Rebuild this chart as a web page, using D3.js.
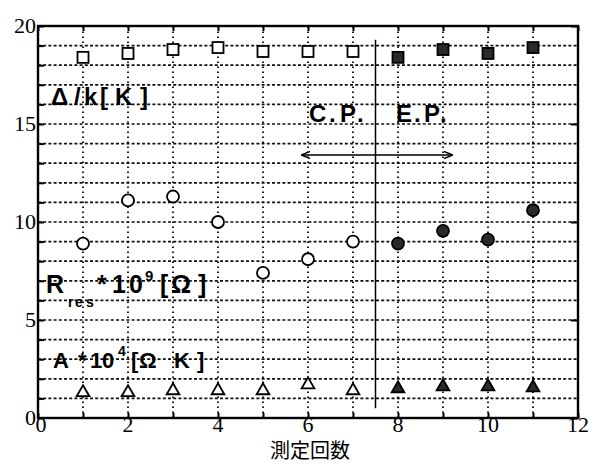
<!DOCTYPE html>
<html>
<head>
<meta charset="utf-8">
<script src="https://cdn.jsdelivr.net/npm/d3@7"></script>
<style>
body { margin: 0; background: #fff; }
</style>
</head>
<body>
<script>
// runs 1..7 = C.P., 8..11 = E.P.
var runs      = [1, 2, 3, 4, 5, 6, 7, 8, 9, 10, 11];
var gap       = [18.4, 18.6, 18.8, 18.9, 18.7, 18.7, 18.7, 18.4, 18.8, 18.6, 18.9];
var rres      = [8.9, 11.1, 11.3, 10.0, 7.4, 8.1, 9.0, 8.9, 9.55, 9.1, 10.6];
var aCoef     = [1.3, 1.3, 1.4, 1.4, 1.4, 1.7, 1.4, 1.5, 1.6, 1.6, 1.55];
var xTicks    = [0, 2, 4, 6, 8, 10, 12];
var yTicks    = [0, 5, 10, 15, 20];
var splitRun  = 7.5;
var arrowSpan = [5.87, 9.2];

var W = 592, H = 464;
var SANS = "'Liberation Sans', Arial, Helvetica, sans-serif";
var SERIF = "'Liberation Serif', 'Times New Roman', 'DejaVu Serif', 'Noto Serif', serif";

var svg = d3.select("body").append("svg")
	.attr("width", W)
	.attr("height", H);

var x = d3.scaleLinear().domain([0, 12]).range([38, 578]);
var y = d3.scaleLinear().domain([0, 20]).range([418, 26]);

/*
/	GRID
*/
var grid = svg.append("g");
grid.selectAll("line.h").data(d3.range(1, 20)).enter().append("line")
	.attr("x1", x(0)).attr("x2", x(12))
	.attr("y1", function(d){ return y(d); })
	.attr("y2", function(d){ return y(d); })
	.attr("stroke", "#111")
	.attr("stroke-width", 1.7)
	.attr("stroke-dasharray", "3,2.2");
grid.selectAll("line.v").data(d3.range(1, 12)).enter().append("line")
	.attr("y1", y(0)).attr("y2", y(20))
	.attr("x1", function(d){ return x(d); })
	.attr("x2", function(d){ return x(d); })
	.attr("stroke", "#111")
	.attr("stroke-width", 1.9)
	.attr("stroke-dasharray", "1.6,3.4");

/*
/	AXES
*/
var axB = svg.append("g").attr("transform", "translate(0," + y(0) + ")")
	.call(d3.axisBottom(x).tickValues(d3.range(0, 13)).tickSize(-5).tickFormat(""));
var axT = svg.append("g").attr("transform", "translate(0," + y(20) + ")")
	.call(d3.axisTop(x).tickValues(d3.range(0, 13)).tickSize(-5).tickFormat(""));
var axL = svg.append("g").attr("transform", "translate(" + x(0) + ",0)")
	.call(d3.axisLeft(y).tickValues(d3.range(0, 21)).tickSize(-6).tickFormat(""));
var axR = svg.append("g").attr("transform", "translate(" + x(12) + ",0)")
	.call(d3.axisRight(y).tickValues(yTicks).tickSize(-7).tickFormat(""));
[axB, axT, axL, axR].forEach(function(a){
	a.selectAll(".domain").remove();
	a.selectAll(".tick line").attr("stroke", "#000").attr("stroke-width", 2);
});

svg.append("rect")
	.attr("x", x(0)).attr("y", y(20))
	.attr("width", x(12) - x(0)).attr("height", y(0) - y(20))
	.attr("fill", "none")
	.attr("stroke", "#000")
	.attr("stroke-width", 2.4);

/*
/	TICK LABELS
*/
svg.selectAll("text.xl").data(xTicks).enter().append("text")
	.attr("x", function(d){ return x(d) + (d == 0 ? 3 : 0); })
	.attr("y", 432)
	.attr("text-anchor", "middle")
	.attr("font-family", SERIF)
	.attr("font-size", 22)
	.text(function(d){ return d; });
svg.selectAll("text.yl").data(yTicks).enter().append("text")
	.attr("x", 36)
	.attr("y", function(d){ return y(d) + 7; })
	.attr("text-anchor", "end")
	.attr("font-family", SERIF)
	.attr("font-size", 22)
	.text(function(d){ return d; });

svg.append("text")
	.attr("x", 310)
	.attr("y", 458)
	.attr("text-anchor", "middle")
	.attr("font-family", "'Noto Sans CJK JP', sans-serif")
	.attr("font-size", 20)
	.text("測定回数");

/*
/	C.P. / E.P. DIVIDER AND ARROW
*/
svg.append("line")
	.attr("x1", x(splitRun)).attr("x2", x(splitRun))
	.attr("y1", y(19.3)).attr("y2", y(0.5))
	.attr("stroke", "#000").attr("stroke-width", 1.5);

var defs = svg.append("defs");
defs.append("marker")
	.attr("id", "head")
	.attr("viewBox", "0 0 10 10")
	.attr("refX", 9).attr("refY", 5)
	.attr("markerWidth", 9).attr("markerHeight", 9)
	.attr("markerUnits", "userSpaceOnUse")
	.attr("orient", "auto-start-reverse")
	.append("path")
	.attr("d", "M0,1 L10,5 L0,9")
	.attr("fill", "none")
	.attr("stroke", "#000")
	.attr("stroke-width", 1.6);

svg.append("line")
	.attr("x1", x(arrowSpan[0])).attr("x2", x(arrowSpan[1]))
	.attr("y1", 155).attr("y2", 155)
	.attr("stroke", "#000").attr("stroke-width", 1.5)
	.attr("marker-start", "url(#head)")
	.attr("marker-end", "url(#head)");

/*
/	ANNOTATION TEXT (glyphs placed one by one, the original is widely spaced)
*/
function glyphs(list, baseline, size){
	var t = svg.append("text")
		.attr("y", baseline)
		.attr("font-family", SANS)
		.attr("font-weight", "bold")
		.attr("font-size", size);
	list.forEach(function(g){
		var s = t.append("tspan").attr("x", g[1]).text(g[0]);
		if(g[2]) s.attr("y", g[2]);
		if(g[3]) s.attr("font-size", g[3]);
	});
	return t;
}

glyphs([["C", 309], [".", 329], ["P", 340], [".", 357]], 122, 24);
glyphs([["E", 396], [".", 414], ["P", 424], [".", 440]], 122, 24);

glyphs([["Δ", 51], ["/", 74], ["k", 84], ["[", 100], ["K", 115], ["]", 140]], 105, 24);

glyphs([["R", 46], ["r", 68, 307, 14], ["e", 75, 307, 14], ["s", 86, 307, 14],
	["*", 97, 293], ["1", 112, 293], ["0", 129, 293], ["9", 145, 281, 15],
	["[", 160, 293], ["Ω", 171, 293], ["]", 198, 293]], 293, 25);

glyphs([["A", 53], ["*", 78], ["1", 90], ["0", 102], ["4", 118, 356, 14],
	["[", 131, 368], ["Ω", 139, 368], ["K", 174, 368], ["]", 197, 368]], 368, 22);

/*
/	MARKERS
*/
var pts = runs.map(function(r, i){
	return { run: r, gap: gap[i], rres: rres[i], a: aCoef[i], filled: r > splitRun };
});

svg.selectAll("rect.sq").data(pts).enter().append("rect")
	.attr("x", function(d){ return x(d.run) - 5.5; })
	.attr("y", function(d){ return y(d.gap) - 5.5; })
	.attr("width", 11).attr("height", 11)
	.attr("fill", function(d){ return d.filled ? "#2a2a2a" : "#fff"; })
	.attr("stroke", "#000").attr("stroke-width", 1.8);

svg.selectAll("circle.c").data(pts).enter().append("circle")
	.attr("cx", function(d){ return x(d.run); })
	.attr("cy", function(d){ return y(d.rres); })
	.attr("r", 6)
	.attr("fill", function(d){ return d.filled ? "#2a2a2a" : "#fff"; })
	.attr("stroke", "#000").attr("stroke-width", 1.8);

var tri = d3.symbol().type(d3.symbolTriangle).size(70);
svg.selectAll("path.t").data(pts).enter().append("path")
	.attr("d", tri)
	.attr("transform", function(d){ return "translate(" + x(d.run) + "," + y(d.a) + ")"; })
	.attr("fill", function(d){ return d.filled ? "#2a2a2a" : "#fff"; })
	.attr("stroke", "#000").attr("stroke-width", 1.8);
</script>
</body>
</html>
